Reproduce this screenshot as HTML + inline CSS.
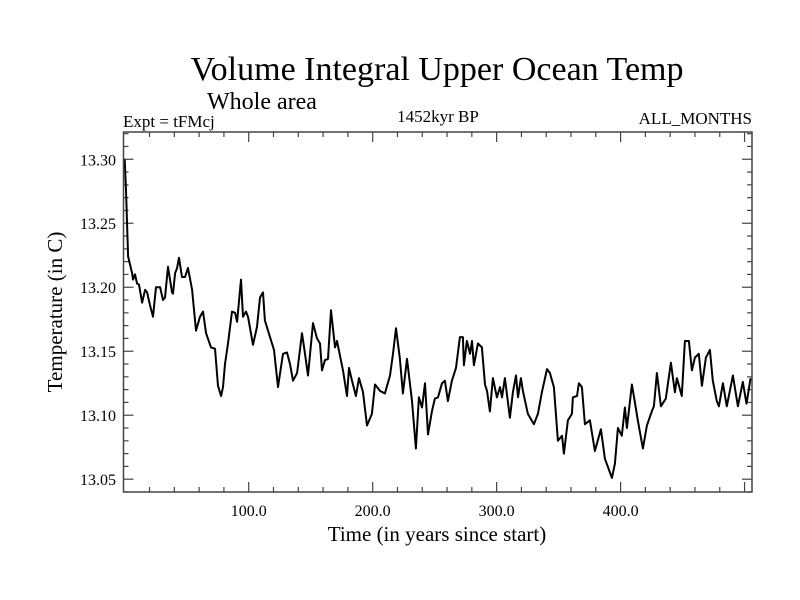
<!DOCTYPE html>
<html><head><meta charset="utf-8"><style>
body{margin:0;background:#fff}
svg{display:block;font-family:"Liberation Serif",serif}
</style></head><body>
<svg id="chart" width="800" height="600">
<text x="437" y="80" font-size="34" text-anchor="middle">Volume Integral Upper Ocean Temp</text>
<text x="207" y="109" font-size="24">Whole area</text>
<text x="123" y="127" font-size="17">Expt = tFMcj</text>
<text x="438" y="122" font-size="17" text-anchor="middle">1452kyr BP</text>
<text x="752" y="124" font-size="17" text-anchor="end">ALL_MONTHS</text>
<text x="437" y="541" font-size="21" text-anchor="middle">Time (in years since start)</text>
<text transform="translate(62,312) rotate(-90)" font-size="21" text-anchor="middle">Temperature (in C)</text>
<g id="axes"></g>
<path id="series" fill="none" stroke="#000" stroke-width="2" stroke-linejoin="round"/>
<rect x="123.5" y="132" width="628.5" height="360" fill="none" stroke="#444" stroke-width="1.5"/>
</svg>
<script>
const years=[0,1,2.7,5.9,6.7,8.3,9.9,11.5,14,16.4,18,20.4,22.8,25.2,28.5,30.9,32.5,34.9,38.1,38.9,40.6,42.2,43.8,46.2,48.6,51,54.3,57.5,60.7,63.1,65.6,69.6,72.8,75.2,77.7,79.3,80.9,83.3,86.5,89,90.6,93.8,95.4,97.8,99.4,103.5,106.7,109.1,111.5,113.1,117.2,120.4,123.6,127.7,130.9,133.3,135.7,139,143,145.4,147.8,151.9,155.1,157.5,159.1,161.5,164,166.4,169.6,171.2,176.1,179.3,180.9,183.3,186.5,189,192.2,195.4,199.4,201.9,205.9,209.9,214,216.4,218.8,222,224.4,227.7,231.7,234.9,237.3,239.8,242.2,244.6,247.8,250.2,252.7,255.9,258.3,260.7,263.9,267.2,270.4,272.8,273.6,276,278.5,280.1,281.7,284.9,288.1,290.6,292.2,294.6,297,300.2,302.7,304.3,306.7,310.7,313.1,315.6,317.2,319.6,321.2,325.2,330.1,333.3,336.5,340.6,343,346.2,349.4,352.7,354.3,357.5,360.7,361.5,364.8,366.4,368.8,371.2,375.2,379.3,384.1,387.3,393,395.4,397.8,401,403.5,405.1,409.1,411.5,413.9,418,421.2,425.2,426.9,429.3,432.5,436.5,440.6,443.8,445.4,449.4,451.9,455.1,457.5,459.9,463.1,465.6,468.8,472,474.4,477.6,479.3,482.5,485.7,490.6,494.6,498.6,501.6,504.9];
const temps=[13.300,13.276,13.224,13.211,13.206,13.210,13.203,13.202,13.188,13.198,13.196,13.186,13.177,13.200,13.200,13.190,13.192,13.216,13.196,13.195,13.211,13.215,13.223,13.208,13.208,13.215,13.198,13.166,13.177,13.181,13.164,13.153,13.152,13.123,13.115,13.122,13.140,13.156,13.181,13.180,13.173,13.206,13.177,13.181,13.177,13.155,13.169,13.192,13.196,13.174,13.161,13.151,13.122,13.148,13.149,13.140,13.127,13.133,13.164,13.148,13.131,13.172,13.160,13.156,13.135,13.143,13.144,13.182,13.153,13.158,13.135,13.115,13.137,13.127,13.115,13.129,13.118,13.092,13.101,13.124,13.119,13.117,13.131,13.148,13.168,13.144,13.117,13.144,13.111,13.074,13.114,13.106,13.125,13.085,13.103,13.113,13.114,13.125,13.127,13.111,13.127,13.137,13.161,13.161,13.139,13.158,13.148,13.158,13.139,13.156,13.153,13.124,13.119,13.103,13.129,13.114,13.122,13.114,13.129,13.098,13.118,13.131,13.114,13.129,13.119,13.101,13.093,13.101,13.118,13.136,13.133,13.122,13.080,13.084,13.070,13.096,13.101,13.114,13.115,13.125,13.122,13.093,13.096,13.072,13.089,13.066,13.051,13.062,13.090,13.084,13.106,13.090,13.124,13.110,13.096,13.074,13.092,13.103,13.107,13.133,13.107,13.113,13.141,13.118,13.129,13.115,13.158,13.158,13.135,13.145,13.148,13.123,13.145,13.151,13.127,13.111,13.107,13.125,13.107,13.131,13.107,13.126,13.109,13.129];
const xTickVals=[100,200,300,400];
const xTickLabels=["100.0","200.0","300.0","400.0"];
const yTickVals=[13.05,13.10,13.15,13.20,13.25,13.30];
const yTickLabels=["13.05","13.10","13.15","13.20","13.25","13.30"];
const X0=123.5,X1=752,Y0=132,Y1=492,XMIN=-1,XMAX=506,YMIN=13.0400,YMAX=13.3213;
function sx(v){return X0+(v-XMIN)/(XMAX-XMIN)*(X1-X0);}
function sy(v){return Y1-(v-YMIN)/(YMAX-YMIN)*(Y1-Y0);}
const NS="http://www.w3.org/2000/svg";
const g=document.getElementById('axes');
function line(x1,y1,x2,y2,name){const l=document.createElementNS(NS,'line');l.setAttribute('x1',x1);l.setAttribute('y1',y1);l.setAttribute('x2',x2);l.setAttribute('y2',y2);l.setAttribute('stroke','#444');l.setAttribute('stroke-width','1.2');


g.appendChild(l);}
function text(x,y,s,anchor,name){const t=document.createElementNS(NS,'text');t.setAttribute('x',x);t.setAttribute('y',y);t.setAttribute('font-size','16');t.setAttribute('text-anchor',anchor);t.textContent=s;


g.appendChild(t);}
for(let v=20;v<XMAX;v+=20){const x=sx(v);const major=v%100===0;const L=major?10:5;
line(x,Y1,x,Y1-L,'x-tick');line(x,Y0,x,Y0+L,'x-tick-top');}
xTickVals.forEach((v,i)=>text(sx(v),516,xTickLabels[i],'middle','x-tick-label'));
for(let k=0;k<=28;k++){const v=13.04+k*0.01;if(v>YMAX)break;const y=sy(v);const major=(k%5===1);const L=major?10:5;
line(X0,y,X0+L,y,'y-tick');line(X1,y,X1-L,y,'y-tick-right');}
yTickVals.forEach((v,i)=>text(116,sy(v)+6,yTickLabels[i],'end','y-tick-label'));
let d='';years.forEach((yr,i)=>{d+=(i?'L':'M')+sx(yr).toFixed(1)+','+sy(temps[i]).toFixed(1);});
document.getElementById('series').setAttribute('d',d);
</script>
</body></html>
